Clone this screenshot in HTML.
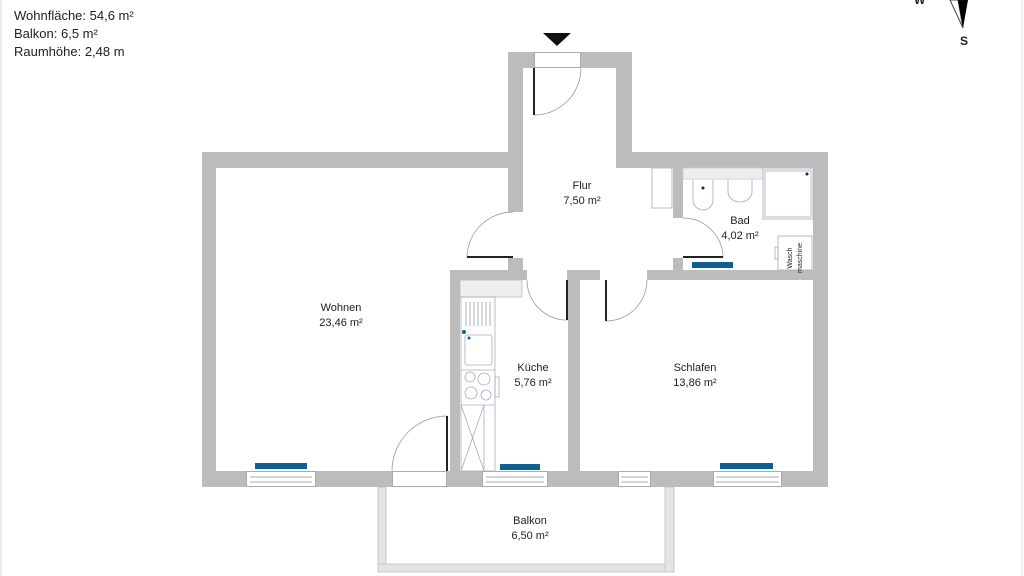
<!DOCTYPE html>
<html><head><meta charset="utf-8"><style>
html,body{margin:0;padding:0;background:#fff;}
svg{display:block}
text{font-family:"Liberation Sans",sans-serif;fill:#222}
</style></head><body>
<svg width="1024" height="576" viewBox="0 0 1024 576" xmlns="http://www.w3.org/2000/svg">
<rect width="1024" height="576" fill="#fff"/>
<line x1="1" y1="0" x2="1" y2="576" stroke="#ddd" stroke-width="1"/>
<line x1="1022" y1="0" x2="1022" y2="576" stroke="#ddd" stroke-width="1"/>
<text x="14" y="20" font-size="13">Wohnfläche: 54,6 m²</text>
<text x="14" y="38" font-size="13">Balkon: 6,5 m²</text>
<text x="14" y="56" font-size="13">Raumhöhe: 2,48 m</text>
<!-- compass -->
<text x="914" y="4" font-size="12" font-weight="bold">W</text>
<polygon points="950,0 958,0 963,28" fill="none" stroke="#444" stroke-width="1"/>
<polygon points="958,0 968,0 963,28" fill="#000"/>
<text x="960" y="45" font-size="12" font-weight="bold">S</text>
<!-- entrance arrow -->
<polygon points="543,33 571,33 557,46" fill="#111"/>

<g fill="#bcbcbc">
<!-- balcony rails -->
<rect x="378" y="487" width="8" height="85" fill="#e4e4e4" stroke="#c8c8c8" stroke-width="1"/>
<rect x="378" y="564" width="296" height="8" fill="#e4e4e4" stroke="#c8c8c8" stroke-width="1"/>
<rect x="665" y="487" width="9" height="85" fill="#e4e4e4" stroke="#c8c8c8" stroke-width="1"/>
<!-- outer walls -->
<rect x="202" y="152" width="306" height="16"/>
<rect x="202" y="152" width="14" height="335"/>
<rect x="202" y="471" width="626" height="16"/>
<rect x="813" y="152" width="15" height="335"/>
<rect x="616" y="152" width="212" height="16"/>
<rect x="508" y="52" width="124" height="16"/>
<rect x="508" y="52" width="15" height="228"/>
<rect x="616" y="52" width="16" height="116"/>
<!-- interior -->
<rect x="450" y="270" width="378" height="10"/>
<rect x="450" y="270" width="10" height="217"/>
<rect x="568" y="270" width="12" height="201"/>
<rect x="673" y="168" width="10" height="112"/>
</g>
<!-- openings (white) -->
<g fill="#fff">
<rect x="534" y="52" width="47" height="16"/>
<rect x="508" y="212" width="15" height="46"/>
<rect x="673" y="218" width="10" height="40"/>
<rect x="527" y="270" width="40" height="10"/>
<rect x="600" y="270" width="47" height="10"/>
<rect x="392" y="471" width="55" height="16"/>
<rect x="246" y="471" width="70" height="16"/>
<rect x="482" y="471" width="66" height="16"/>
<rect x="618" y="471" width="33" height="16"/>
<rect x="713" y="471" width="69" height="16"/>
</g>
<g fill="none" stroke="#aaa" stroke-width="1">
<rect x="534.5" y="52.5" width="46" height="15"/>
<rect x="392.5" y="471.5" width="54" height="15"/>
<rect x="246.5" y="471.5" width="69" height="15"/>
<line x1="250" y1="477" x2="312" y2="477"/><line x1="250" y1="482" x2="312" y2="482"/>
<rect x="482.5" y="471.5" width="65" height="15"/>
<line x1="486" y1="477" x2="544" y2="477"/><line x1="486" y1="482" x2="544" y2="482"/>
<rect x="618.5" y="471.5" width="32" height="15"/>
<line x1="621" y1="477" x2="648" y2="477"/><line x1="621" y1="482" x2="648" y2="482"/>
<rect x="713.5" y="471.5" width="68" height="15"/>
<line x1="716" y1="477" x2="779" y2="477"/><line x1="716" y1="482" x2="779" y2="482"/>
</g>
<!-- doors -->
<g fill="none" stroke="#999" stroke-width="0.8">
<path d="M581,68 A47,47 0 0 1 534,115"/>
<path d="M467,257 A46,46 0 0 1 513,212"/>
<path d="M723,257 A40,40 0 0 0 683,218"/>
<path d="M527,280 A40,40 0 0 0 567,320"/>
<path d="M647,280 A41,41 0 0 1 606,321"/>
<path d="M392,471 A55,55 0 0 1 447,416"/>
</g>
<g stroke="#222" stroke-width="2">
<line x1="534" y1="68" x2="534" y2="115"/>
<line x1="467" y1="257" x2="513" y2="257"/>
<line x1="683" y1="257" x2="723" y2="257"/>
<line x1="567" y1="280" x2="567" y2="320"/>
<line x1="606" y1="280" x2="606" y2="321"/>
<line x1="447" y1="416" x2="447" y2="471"/>
</g>
<!-- radiators -->
<g fill="#0f5f92">
<rect x="255" y="463" width="52" height="6"/>
<rect x="500" y="464" width="40" height="6"/>
<rect x="720" y="463" width="53" height="6"/>
<rect x="692" y="262" width="41" height="6"/>
</g>
<!-- flur closet -->
<rect x="652" y="168" width="20" height="40" fill="#fff" stroke="#bbb"/>
<!-- kitchen -->
<g fill="none" stroke="#aab" stroke-width="0.8">
<rect x="460" y="280" width="62" height="17" fill="#eee" stroke="#bbb"/>
<rect x="461" y="297" width="34" height="174"/>
<line x1="461" y1="370" x2="495" y2="370"/>
<line x1="461" y1="405" x2="495" y2="405"/>
<line x1="461" y1="405" x2="484" y2="471"/><line x1="484" y1="405" x2="461" y2="471"/>
<line x1="484" y1="405" x2="484" y2="471"/>
<rect x="465" y="335" width="27" height="30" rx="2"/>
<g stroke="#99a"><line x1="466" y1="302" x2="466" y2="326"/><line x1="470" y1="302" x2="470" y2="326"/><line x1="474" y1="302" x2="474" y2="326"/><line x1="478" y1="302" x2="478" y2="326"/><line x1="482" y1="302" x2="482" y2="326"/><line x1="486" y1="302" x2="486" y2="326"/><line x1="490" y1="302" x2="490" y2="326"/></g>
<circle cx="470" cy="377" r="5"/><circle cx="484" cy="379" r="6"/>
<circle cx="471" cy="393" r="6"/><circle cx="486" cy="395" r="5"/>
<rect x="495" y="377" width="4" height="20"/>
</g>
<circle cx="464" cy="332" r="2" fill="#0f5f92"/><circle cx="469" cy="338" r="1.5" fill="#0f5f92"/>
<!-- bath -->
<g fill="none" stroke="#aab" stroke-width="0.8">
<rect x="683" y="168" width="80" height="11" fill="#eee" stroke="#ccc"/>
<rect x="763" y="169" width="50" height="50"/>
<rect x="765" y="171" width="46" height="46"/>
<path d="M693,180 L693,200 A10,10 0 0 0 713,200 L713,180"/>
<path d="M728,180 L728,192 A12,10 0 0 0 752,192 L752,180"/>
<rect x="778" y="236" width="34" height="34"/>
<rect x="775" y="247" width="3" height="12"/>
</g>
<circle cx="703" cy="188" r="1.5" fill="#223"/><circle cx="807" cy="174" r="1.5" fill="#223"/>
<text x="792" y="258" font-size="7" fill="#557" transform="rotate(-90 792 258)" text-anchor="middle">Wasch</text>
<text x="802" y="258" font-size="7" fill="#557" transform="rotate(-90 802 258)" text-anchor="middle">maschine</text>
<!-- labels -->
<g font-size="11" text-anchor="middle">
<text x="582" y="189">Flur</text><text x="582" y="204">7,50 m²</text>
<text x="740" y="224">Bad</text><text x="740" y="239">4,02 m²</text>
<text x="341" y="311">Wohnen</text><text x="341" y="326">23,46 m²</text>
<text x="533" y="371">Küche</text><text x="533" y="386">5,76 m²</text>
<text x="695" y="371">Schlafen</text><text x="695" y="386">13,86 m²</text>
<text x="530" y="524">Balkon</text><text x="530" y="539">6,50 m²</text>
</g>
</svg>
</body></html>
